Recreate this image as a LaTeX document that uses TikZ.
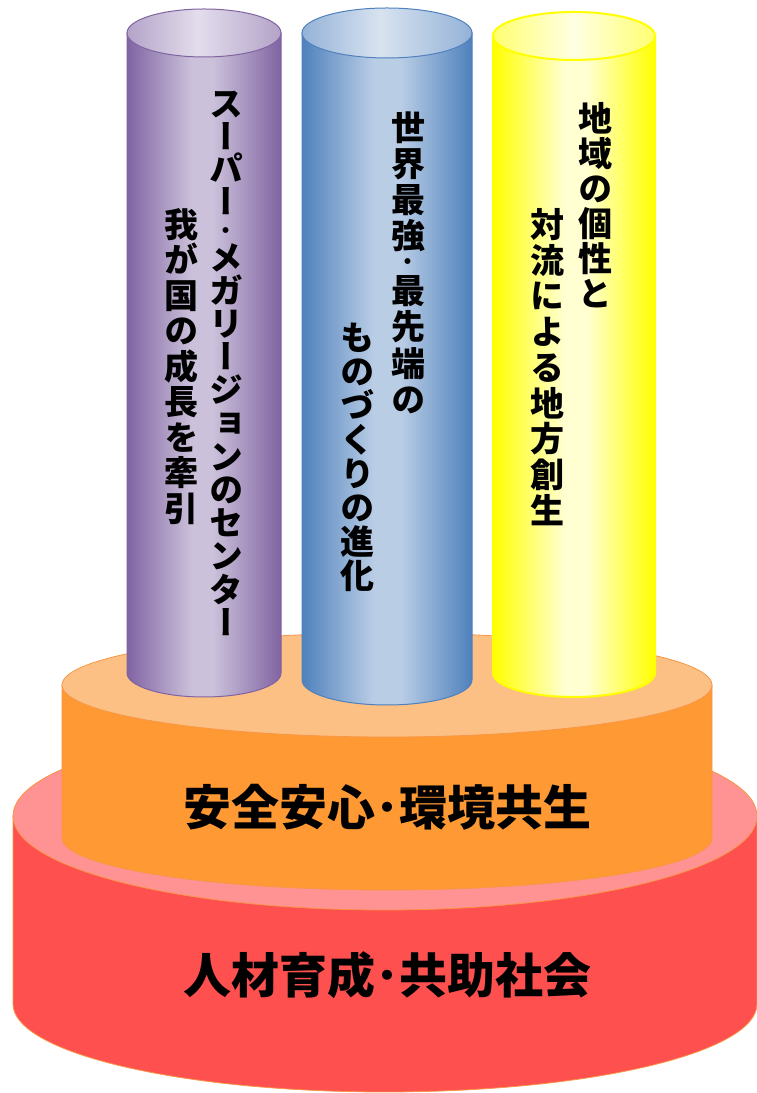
\documentclass[tikz,border=0pt]{standalone}
\usepackage{fontspec}
\newfontfamily\jp{Noto Sans CJK JP}
\newfontfamily\jpv{Noto Sans CJK JP}[RawFeature=+vert]
\definecolor{pD}{HTML}{8064A2}
\definecolor{pL}{HTML}{CBC1DA}
\definecolor{pTE}{HTML}{B3A3C8}
\definecolor{pTL}{HTML}{E3DDEC}
\definecolor{bD}{HTML}{4F81BD}
\definecolor{bL}{HTML}{B9CDE5}
\definecolor{bTE}{HTML}{94B2D7}
\definecolor{bTL}{HTML}{D8E3F0}
\definecolor{yD}{HTML}{FFFF00}
\definecolor{yL}{HTML}{FFFFD2}
\definecolor{yTE}{HTML}{FFFF70}
\definecolor{yTL}{HTML}{FFFFE4}
\definecolor{redside}{HTML}{FF5050}
\definecolor{redtop}{HTML}{FF9393}
\definecolor{orside}{HTML}{FF9933}
\definecolor{ortop}{HTML}{FCC084}
\definecolor{diskline}{HTML}{F79646}
\pgfdeclarehorizontalshading{purplebody}{100bp}{color(0bp)=(pD); color(25bp)=(pD); color(46bp)=(pL); color(53bp)=(pL); color(75bp)=(pD); color(100bp)=(pD)}
\pgfdeclarehorizontalshading{purpletop}{100bp}{color(0bp)=(pTE); color(25bp)=(pTE); color(48bp)=(pTL); color(75bp)=(pTE); color(100bp)=(pTE)}
\pgfdeclarehorizontalshading{bluebody}{100bp}{color(0bp)=(bD); color(25bp)=(bD); color(46bp)=(bL); color(54bp)=(bL); color(75bp)=(bD); color(100bp)=(bD)}
\pgfdeclarehorizontalshading{bluetop}{100bp}{color(0bp)=(bTE); color(25bp)=(bTE); color(48bp)=(bTL); color(75bp)=(bTE); color(100bp)=(bTE)}
\pgfdeclarehorizontalshading{yellowbody}{100bp}{color(0bp)=(yD); color(25bp)=(yD); color(47bp)=(yL); color(54bp)=(yL); color(75bp)=(yD); color(100bp)=(yD)}
\pgfdeclarehorizontalshading{yellowtop}{100bp}{color(0bp)=(yTE); color(25bp)=(yTE); color(50bp)=(yTL); color(75bp)=(yTE); color(100bp)=(yTE)}
\begin{document}
\begin{tikzpicture}[x=1pt,y=1pt,
  vtxt/.style={font=\jpv\bfseries\fontsize{34}{#1}\selectfont,
    align=center, inner sep=0pt, anchor=north},
  vdot/.style={font=\jpv\bfseries\fontsize{21}{21}\selectfont, inner sep=0pt},
  htxt/.style={font=\jp\bfseries\fontsize{48}{48}\selectfont, inner sep=0pt},
  disk/.style={draw=diskline, line width=0.8pt}]
\useasboundingbox (0,0) rectangle (756,1093);
% bottom red disk
\path[disk, fill=redside] (13,277) -- (13,89) arc[start angle=180,end angle=360,x radius=372,y radius=88] -- (757,277) -- cycle;
\path[disk, fill=redtop] (385,277) ellipse[x radius=372,y radius=94];
% orange disk
\path[disk, fill=orside] (62,408) -- (62,255) arc[start angle=180,end angle=360,x radius=325,y radius=52] -- (712,408) -- cycle;
\path[disk, fill=ortop] (387,408) ellipse[x radius=325,y radius=52];
% purple cylinder
\path[shading=purplebody, draw=pD, line width=1pt] (127,1060) -- (127,420) arc[start angle=180,end angle=360,x radius=77,y radius=24] -- (281,1060) -- cycle;
\path[shading=purpletop, draw=pD, line width=1pt] (204,1060) ellipse[x radius=77,y radius=24];
% blue cylinder
\path[shading=bluebody, draw=bD, line width=1pt] (302,1060) -- (302,413) arc[start angle=180,end angle=360,x radius=85,y radius=25] -- (472,1060) -- cycle;
\path[shading=bluetop, draw=bD, line width=1pt] (387,1060) ellipse[x radius=85,y radius=25];
% yellow cylinder
\path[shading=yellowbody, draw=yD, line width=2pt] (493,1057) -- (493,420) arc[start angle=180,end angle=360,x radius=81,y radius=24] -- (655,1057) -- cycle;
\path[shading=yellowtop, draw=yD, line width=2pt] (574,1057) ellipse[x radius=81,y radius=24];
% texts
\node[htxt] (t2) at (387,286) {安全安心･環境共生};
\node[htxt] (t1) at (387,118) {人材育成･共助社会};
\node[vtxt=32.6] (p1a) at (226,1002) {ス\\ー\\パ\\ー};
\node[vdot] (p1d) at (226,859.5) {・};
\node[vtxt=33.2] (p1b) at (226,850) {メ\\ガ\\リ\\ー\\ジ\\ョ\\ン\\の\\セ\\ン\\タ\\ー};
\node[vtxt=35.5] (p2) at (181,885) {我\\が\\国\\の\\成\\長\\を\\牽\\引};
\node[vtxt=36] (b1a) at (408,981) {世\\界\\最\\強};
\node[vdot] (b1d) at (408,828.5) {・};
\node[vtxt=36.5] (b1b) at (408,818) {最\\先\\端\\の};
\node[vtxt=34] (b2) at (357,770) {も\\の\\づ\\く\\り\\の\\進\\化};
\node[vtxt=35] (y1) at (595,991) {地\\域\\の\\個\\性\\と};
\node[vtxt=35.75] (y2) at (547,885) {対\\流\\に\\よ\\る\\地\\方\\創\\生};
\end{tikzpicture}
\end{document}
